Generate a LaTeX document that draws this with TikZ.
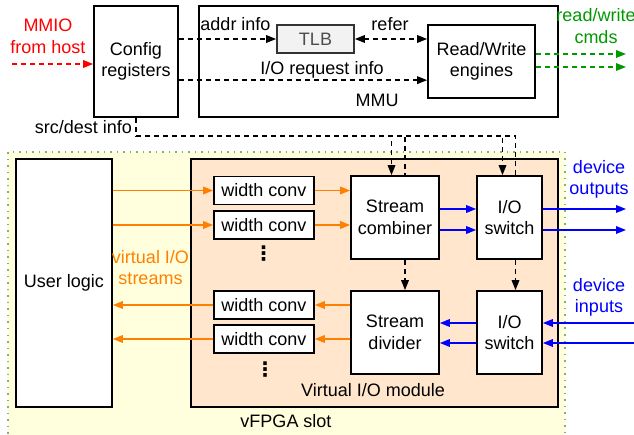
\documentclass[tikz,border=0pt]{standalone}
\usepackage{fontspec}
\setmainfont{Liberation Sans}
\newfontfamily\symfont{DejaVu Sans}
\usetikzlibrary{arrows.meta,calc}
\definecolor{slotfill}{HTML}{FFFFDD}
\definecolor{slotline}{HTML}{82B366}
\definecolor{viofill}{HTML}{FFE6CC}
\definecolor{tlbfill}{HTML}{F2F2F2}
\definecolor{tlbline}{HTML}{333333}
\definecolor{tlbtext}{HTML}{4D4D4D}
\definecolor{cmdgreen}{HTML}{009900}
\definecolor{streamorange}{HTML}{FF8000}

\begin{document}
\begin{tikzpicture}[x=1pt,y=-1pt,
	font=\fontsize{18}{21.5}\selectfont,
	box/.style={draw,line width=1.6pt,fill=white,inner sep=0pt,align=center},
	txt/.style={inner sep=0pt,align=center},
	vdotsnode/.style={inner sep=0pt,font=\symfont\bfseries\fontsize{20}{20}\selectfont},
	tip/.style={-{Triangle[length=10pt,width=7.5pt]}},
	ctrl/.style={line width=1.6pt,dash pattern=on 5pt off 4pt},
	stream/.style={line width=1.6pt,tip}]
	\useasboundingbox (0,0) rectangle (634,435);

	\coordinate (mmio) at (12,64);
	\coordinate (bus) at (136,136);
	\coordinate (cmd1) at (626,54);
	\coordinate (cmd2) at (626,67);
	\coordinate (out1) at (626,209);
	\coordinate (out2) at (626,230);
	\coordinate (in1) at (634,323);
	\coordinate (in2) at (634,343);

	\fill[slotfill] (8,152) rectangle (565,440);
	\draw[slotline,line width=1.5pt,dash pattern=on 1.5pt off 5pt] (8,440) -- (8,152) -- (565,152) -- (565,440);

	\node[box,minimum width=84pt,minimum height=111pt] (cfg) at (136,61.5) {Config\\registers};
	\node[box,minimum width=359pt,minimum height=111pt] (mmu) at (378.5,61.5) {};
	\node[txt] (mmulbl) at (377,100) {MMU};
	\node[box,fill=tlbfill,draw=tlbline,text=tlbtext,minimum width=77pt,minimum height=28pt] (tlb) at (315.5,39) {TLB};
	\node[box,minimum width=107pt,minimum height=73pt] (rw) at (481.5,61.5) {Read/Write\\engines};

	\node[box,minimum width=96pt,minimum height=248pt] (user) at (64,283) {User logic};
	\node[box,fill=viofill,minimum width=367pt,minimum height=248pt] (vio) at (374.5,283) {};
	\node[txt] (violbl) at (373,390) {Virtual I/O module};
	\node[txt] (slotlbl) at (286,421) {vFPGA slot};

	\node[box,minimum width=100pt,minimum height=28pt] (wc1) at (264,190.5) {width conv};
	\node[box,minimum width=100pt,minimum height=28pt] (wc2) at (264,225) {width conv};
	\node[vdotsnode] (dots1) at (263.5,254) {⋮};
	\node[box,minimum width=100pt,minimum height=28pt] (wc3) at (264,305) {width conv};
	\node[box,minimum width=100pt,minimum height=28pt] (wc4) at (264,339) {width conv};
	\node[vdotsnode] (dots2) at (265,370) {⋮};

	\node[box,minimum width=88pt,minimum height=83pt] (comb) at (395,217.5) {Stream\\combiner};
	\node[box,minimum width=65pt,minimum height=83pt] (swo) at (509.5,217.5) {I/O\\switch};
	\node[box,minimum width=88pt,minimum height=83pt] (div) at (395,332.5) {Stream\\divider};
	\node[box,minimum width=65pt,minimum height=83pt] (swi) at (509.5,332.5) {I/O\\switch};

	\node[txt,text=red] (mmiolbl) at (48,36.5) {MMIO\\from host};
	\node[txt] (addrlbl) at (235.5,24) {addr info};
	\node[txt] (referlbl) at (390,24) {refer};
	\node[txt] (reqlbl) at (322,70) {I/O request info};
	\node[txt,text=cmdgreen] (cmdlbl) at (596,26) {read/write\\cmds};
	\node[txt] (srclbl) at (83.5,127) {src/dest info};
	\node[txt,text=streamorange] (vlbl) at (150.5,267.5) {virtual I/O\\streams};
	\node[txt,text=blue] (outlbl) at (599,179.5) {device\\outputs};
	\node[txt,text=blue] (inlbl) at (599,297.5) {device\\inputs};

	\draw[ctrl,tip,red] (mmio) -- (cfg.west |- mmio);
	\draw[ctrl,tip] (cfg.east |- tlb.west) -- (tlb.west);
	\draw[ctrl,{Triangle[length=10pt,width=7.5pt]}-{Triangle[length=10pt,width=7.5pt]}] (tlb.east) -- (rw.west |- tlb.east);
	\coordinate (req) at ($(rw.south west)!0.25!(rw.north west)$);
	\draw[ctrl,tip] (cfg.east |- req) -- (req);
	\draw[ctrl,tip,cmdgreen] (rw.east |- cmd1) -- (cmd1);
	\draw[ctrl,tip,cmdgreen] (rw.east |- cmd2) -- (cmd2);

	\draw[ctrl] (cfg.south) -- (bus);
	\draw[ctrl,tip] (bus) -| ([xshift=-3.5pt]comb.north);
	\draw[ctrl] (bus) -| ([xshift=10pt]comb.north);
	\draw[ctrl,tip] ([xshift=10pt]comb.south) -- ([xshift=10pt]div.north);
	\draw[ctrl,tip] (bus) -| ([xshift=-7pt]swo.north);
	\draw[ctrl] (bus) -| ([xshift=6pt]swo.north);
	\draw[ctrl,tip] ([xshift=6pt]swo.south) -- ([xshift=6pt]swi.north);

	\draw[stream,streamorange] (user.east |- wc1) -- (wc1);
	\draw[stream,streamorange] (user.east |- wc2) -- (wc2);
	\draw[stream,streamorange] (wc3) -- (user.east |- wc3);
	\draw[stream,streamorange] (wc4) -- (user.east |- wc4);
	\draw[stream,streamorange] (wc1) -- (comb.west |- wc1);
	\draw[stream,streamorange] (wc2) -- (comb.west |- wc2);
	\draw[stream,streamorange] (div.west |- wc3) -- (wc3);
	\draw[stream,streamorange] (div.west |- wc4) -- (wc4);

	\draw[stream,blue] (comb.east |- out1) -- (swo.west |- out1);
	\draw[stream,blue] (comb.east |- out2) -- (swo.west |- out2);
	\draw[stream,blue] (swo.east |- out1) -- (out1);
	\draw[stream,blue] (swo.east |- out2) -- (out2);
	\draw[stream,blue] (in1) -- (swi.east |- in1);
	\draw[stream,blue] (in2) -- (swi.east |- in2);
	\draw[stream,blue] (swi.west |- in1) -- (div.east |- in1);
	\draw[stream,blue] (swi.west |- in2) -- (div.east |- in2);
\end{tikzpicture}
\end{document}
